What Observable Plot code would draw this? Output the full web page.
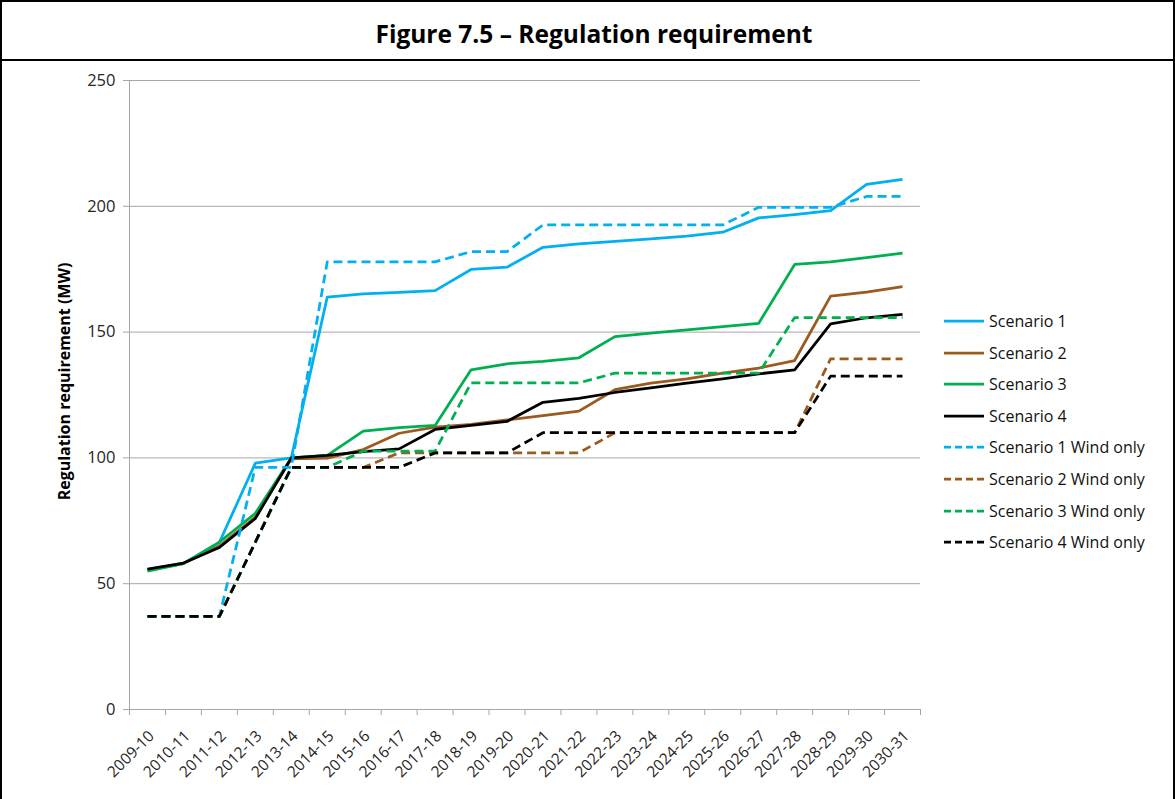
<!DOCTYPE html>
<html>
<head>
<meta charset="utf-8">
<script src="https://cdn.jsdelivr.net/npm/d3@7"></script>
<script src="https://cdn.jsdelivr.net/npm/@observablehq/plot@0.6"></script>
<style>
  html, body { margin: 0; padding: 0; background: #fff; }
  #wrap { position: relative; width: 1175px; height: 799px; overflow: hidden; font-family: "Open Sans", sans-serif; }
  #frame { position: absolute; left: 0; top: 0; width: 1175px; height: 830px; box-sizing: border-box; border: 2px solid #000; pointer-events: none; z-index: 5; }
  #title { position: absolute; left: 0; top: 0; width: 1175px; height: 61px; box-sizing: border-box; border-bottom: 2px solid #000;
           display: flex; align-items: center; justify-content: center; font-weight: bold; font-size: 24.5px; color: #000; padding-top: 8px; padding-left: 13px; }
  #chart { position: absolute; left: 0; top: 62px; }
  #legend { position: absolute; left: 944px; top: 311px; font-size: 16px; color: #111; }
  .row { height: 31.6px; display: flex; align-items: flex-start; }
  .row svg { display: block; }
  .row span { margin-left: 5px; line-height: 20px; white-space: nowrap; }
</style>
</head>
<body>
<div id="wrap">
  <div id="title">Figure 7.5 – Regulation requirement</div>
  <div id="chart"></div>
  <div id="legend"></div>
  <div id="frame"></div>
</div>
<script>
const years = ["2009-10","2010-11","2011-12","2012-13","2013-14","2014-15","2015-16","2016-17","2017-18","2018-19","2019-20","2020-21","2021-22","2022-23","2023-24","2024-25","2025-26","2026-27","2027-28","2028-29","2029-30","2030-31"];

const scenario1 = [55.6, 58.1, 66.4, 97.9, 100, 163.9, 165.2, 165.8, 166.5, 174.9, 175.8, 183.7, 185.1, 186.1, 187.1, 188.1, 189.7, 195.4, 196.7, 198.3, 208.7, 210.7];
const scenario2 = [55.5, 58.0, 65.0, 76.5, 99.6, 99.9, 103.3, 109.8, 112.2, 113.3, 115.1, 116.8, 118.6, 127.1, 129.7, 131.4, 133.7, 135.7, 138.7, 164.3, 165.9, 168.1];
const scenario3 = [55.0, 58.0, 66.5, 78.0, 100, 101.0, 110.6, 112.0, 112.9, 135.0, 137.4, 138.4, 139.8, 148.2, 149.6, 150.9, 152.2, 153.5, 176.9, 177.9, 179.6, 181.4];
const scenario4 = [55.8, 58.2, 64.4, 75.9, 100, 101.0, 102.5, 103.6, 111.3, 112.9, 114.5, 122.1, 123.7, 126.0, 127.8, 129.7, 131.4, 133.4, 135.0, 153.3, 155.7, 157.0];
const wind1 = [37, 37, 37, 96.2, 96.2, 177.9, 177.9, 177.9, 177.9, 182.0, 182.0, 192.6, 192.6, 192.6, 192.6, 192.6, 192.6, 199.6, 199.6, 199.6, 203.9, 203.9];
const wind2 = [37, 37, 37, 66.5, 96.2, 96.2, 96.2, 102, 102, 102, 102, 102, 102, 110, 110, 110, 110, 110, 110, 139.4, 139.4, 139.4];
const wind3 = [37, 37, 37, 66.5, 96.2, 96.2, 102.7, 102.7, 102.7, 129.8, 129.8, 129.8, 129.8, 133.7, 133.7, 133.7, 133.7, 133.7, 155.8, 155.8, 155.8, 155.8];
const wind4 = [37, 37, 37, 66.5, 96.2, 96.2, 96.2, 96.2, 102, 102, 102, 110, 110, 110, 110, 110, 110, 110, 110, 132.5, 132.5, 132.5];

const seriesNames = ["Scenario 1","Scenario 2","Scenario 3","Scenario 4","Scenario 1 Wind only","Scenario 2 Wind only","Scenario 3 Wind only","Scenario 4 Wind only"];
const seriesValues = [scenario1, scenario2, scenario3, scenario4, wind1, wind2, wind3, wind4];
const seriesColors = ["#00B0F0","#9C5A1E","#00B050","#000000","#00B0F0","#9C5A1E","#00B050","#000000"];
const seriesDashed = [false, false, false, false, true, true, true, true];
const yTicks = [0, 50, 100, 150, 200, 250];
const yLabel = "Regulation requirement (MW)";

const rows = seriesNames.flatMap((name, s) => years.map((yr, i) => ({series: name, index: i, year: yr, value: seriesValues[s][i]})));
const boundaries = d3.range(years.length + 1).map(i => i - 0.5);

const gray = "#a6a6a6";
const chart = Plot.plot({
  width: 930,
  height: 737,
  marginLeft: 129,
  marginRight: 10,
  marginTop: 18,
  marginBottom: 90,
  style: {fontFamily: "'Open Sans', sans-serif", fontSize: "15px", color: "#262626", background: "transparent"},
  x: {type: "linear", domain: [-0.5, years.length - 0.5]},
  y: {domain: [0, 250]},
  marks: [
    Plot.gridY(yTicks.slice(1), {stroke: gray, strokeOpacity: 1, strokeWidth: 1}),
    Plot.frame({anchor: "left", stroke: gray, strokeWidth: 1}),
    Plot.frame({anchor: "bottom", stroke: gray, strokeWidth: 1}),
    Plot.axisY({ticks: yTicks, tickSize: 6, tickPadding: 8, stroke: gray, fontSize: 16.5, label: null}),
    Plot.text([yLabel], {text: d => d, frameAnchor: "left", rotate: -90, dx: -65, dy: -13.5,
      fontSize: 16, fontWeight: "bold", fill: "#000", textAnchor: "middle"}),
    Plot.axisX({ticks: boundaries, tickSize: 6, stroke: gray, tickFormat: () => "", label: null}),
    Plot.axisX({ticks: d3.range(years.length), tickSize: 0, tickPadding: 24, dx: 4, tickRotate: -45, fontSize: 15.5,
      tickFormat: i => years[i], label: null}),
    ...seriesNames.map((name, s) => Plot.line(rows.filter(r => r.series === name), {
      x: "index", y: "value", stroke: seriesColors[s], strokeWidth: 2.75,
      strokeDasharray: seriesDashed[s] ? "9,5" : null, strokeLinejoin: "round", strokeLinecap: "butt"
    }))
  ]
});
document.getElementById("chart").appendChild(chart);

const legend = document.getElementById("legend");
seriesNames.forEach((name, s) => {
  const row = document.createElement("div");
  row.className = "row";
  row.innerHTML = `<svg width="40" height="20"><line x1="0" x2="40" y1="10" y2="10" stroke="${seriesColors[s]}" stroke-width="2.75" ${seriesDashed[s] ? 'stroke-dasharray="7,4"' : ''}/></svg><span>${name}</span>`;
  legend.appendChild(row);
});
</script>
</body>
</html>
